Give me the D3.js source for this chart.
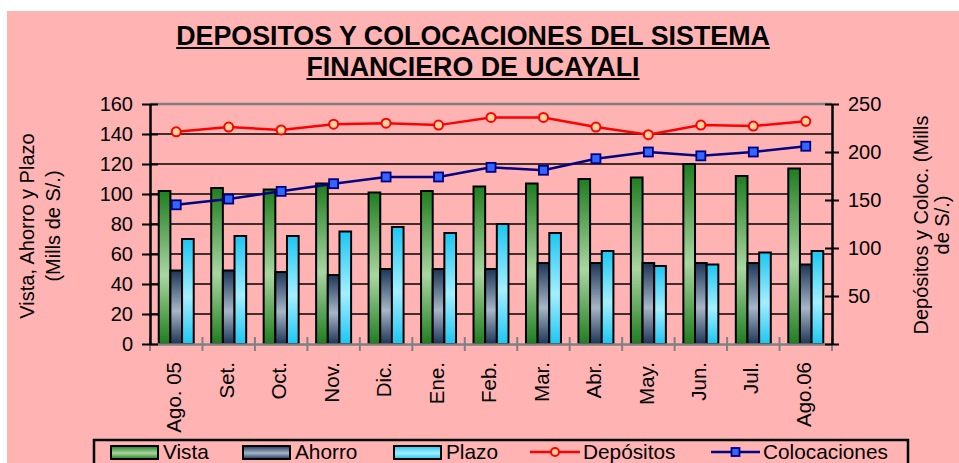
<!DOCTYPE html>
<html>
<head>
<meta charset="utf-8">
<script src="https://cdn.jsdelivr.net/npm/d3@7"></script>
<style>
  body { margin: 0; background: #fff; }
  svg text { font-family: "Liberation Sans", Arial, sans-serif; fill: #000; }
</style>
</head>
<body>
<div id="chart"></div>
<script>
const W = 959, H = 463;
const PLOT = { left: 150, right: 832, top: 104, bottom: 344 };

// data
const months = ["Ago. 05", "Set.", "Oct.", "Nov.", "Dic.", "Ene.", "Feb.", "Mar.", "Abr.", "May.", "Jun.", "Jul.", "Ago.06"];
const vista = [102, 104, 103, 107, 101, 102, 105, 107, 110, 111, 120, 112, 117];
const ahorro = [49, 49, 48, 46, 50, 50, 50, 54, 54, 54, 54, 54, 53];
const plazo = [70, 72, 72, 75, 78, 74, 80, 74, 62, 52, 53, 61, 62];
const depositos = [221, 226, 223, 229, 230, 228, 236, 236, 226, 218, 228, 227, 232];
const colocaciones = [145, 151, 159, 167, 174, 174, 184, 181, 193, 200, 196, 200, 206];
const leftTicks = [0, 20, 40, 60, 80, 100, 120, 140, 160];
const rightTicks = [50, 100, 150, 200, 250];
const barSeries = ["Vista", "Ahorro", "Plazo"];

const svg = d3.select("#chart").append("svg").attr("width", W).attr("height", H);

// gradients for the bars
const defs = svg.append("defs");
const grads = {
  Vista: ["#1f7d1f", "#a9d6a0"],
  Ahorro: ["#1d3557", "#a7b6c8"],
  Plazo: ["#1cc6f2", "#a3efff"]
};
Object.keys(grads).forEach(k => {
  const g = defs.append("linearGradient").attr("id", "g" + k)
    .attr("x1", 0).attr("y1", 0).attr("x2", 0).attr("y2", 1);
  g.append("stop").attr("offset", "0%").attr("stop-color", grads[k][0]);
  g.append("stop").attr("offset", "55%").attr("stop-color", grads[k][1]);
  g.append("stop").attr("offset", "100%").attr("stop-color", grads[k][0]);
});

svg.append("rect").attr("x", 7).attr("y", 11).attr("width", W - 7).attr("height", H - 11).attr("fill", "#ffb3b3");

// title
const titleLines = ["DEPOSITOS Y COLOCACIONES DEL SISTEMA", "FINANCIERO DE UCAYALI"];
titleLines.forEach((t, i) => {
  const tx = svg.append("text").attr("x", 473).attr("y", 45 + i * 31)
    .attr("text-anchor", "middle").style("font-size", "26.8px").style("font-weight", "bold").text(t);
  const w = tx.node().getComputedTextLength();
  svg.append("line").attr("x1", 473 - w / 2).attr("x2", 473 + w / 2)
    .attr("y1", 48 + i * 31).attr("y2", 48 + i * 31).attr("stroke", "#000").attr("stroke-width", 2);
});

const x = d3.scaleBand().domain(months).range([PLOT.left, PLOT.right]);
const step = x.step();
const xBar = d3.scaleBand().domain(barSeries).range([step / 6, step * 5 / 6]);
const yL = d3.scaleLinear().domain([0, 160]).range([PLOT.bottom, PLOT.top]);
const yR = d3.scaleLinear().domain([0, 250]).range([PLOT.bottom, PLOT.top]);

// gridlines
svg.append("g").selectAll("line").data(leftTicks.filter(d => d > 0)).join("line")
  .attr("x1", PLOT.left).attr("x2", PLOT.right)
  .attr("y1", d => yL(d)).attr("y2", d => yL(d))
  .attr("stroke", d => d === 160 ? "#808080" : "#000")
  .attr("stroke-width", d => d === 160 ? 2.5 : 1.5);

// bars
const barData = months.map((m, i) => ({ m, vals: [vista[i], ahorro[i], plazo[i]] }));
svg.append("g").selectAll("g").data(barData).join("g")
  .attr("transform", d => "translate(" + x(d.m) + ",0)")
  .selectAll("rect").data(d => d.vals.map((v, j) => ({ k: barSeries[j], v }))).join("rect")
  .attr("x", d => xBar(d.k)).attr("width", xBar.bandwidth())
  .attr("y", d => yL(d.v)).attr("height", d => yL(0) - yL(d.v))
  .attr("fill", d => "url(#g" + d.k + ")")
  .attr("stroke", "#000").attr("stroke-width", 2);

// x axis
const xAxis = svg.append("g").attr("transform", "translate(0," + PLOT.bottom + ")")
  .call(d3.axisBottom(x).tickSize(0).tickSizeOuter(0));
xAxis.select(".domain").attr("stroke", "#808080").attr("stroke-width", 2.5);
xAxis.selectAll(".tick text")
  .attr("transform", "rotate(-90)").attr("x", -18).attr("y", -2).attr("dy", "0.35em")
  .attr("text-anchor", "end").style("font-size", "20.5px").style("font-family", "Liberation Sans, Arial, sans-serif");
xAxis.selectAll("line.bound").data(d3.range(months.length + 1)).join("line").attr("class", "bound")
  .attr("x1", i => PLOT.left + i * step).attr("x2", i => PLOT.left + i * step)
  .attr("y1", -7).attr("y2", 7).attr("stroke", "#808080").attr("stroke-width", 2);

// left axis
const lAxis = svg.append("g").attr("transform", "translate(" + PLOT.left + ",0)")
  .call(d3.axisLeft(yL).tickValues(leftTicks).tickSize(8).tickPadding(9).tickSizeOuter(0));
lAxis.select(".domain").attr("stroke", "#000").attr("stroke-width", 2.5);
lAxis.selectAll(".tick line").attr("x2", -8).attr("x1", 8).attr("stroke", "#000").attr("stroke-width", 2);
lAxis.selectAll(".tick text").style("font-size", "20px").style("font-family", "Liberation Sans, Arial, sans-serif");

// right axis
const rAxis = svg.append("g").attr("transform", "translate(" + PLOT.right + ",0)")
  .call(d3.axisRight(yR).tickValues([0].concat(rightTicks)).tickSize(7).tickPadding(9).tickSizeOuter(0)
    .tickFormat(d => d === 0 ? "" : d));
rAxis.select(".domain").attr("stroke", "#000").attr("stroke-width", 2.5);
rAxis.selectAll(".tick line").attr("x1", -7).attr("x2", 7).attr("stroke", "#000").attr("stroke-width", 2);
rAxis.selectAll(".tick text").style("font-size", "20px").style("font-family", "Liberation Sans, Arial, sans-serif");

// lines
const cx = i => x(months[i]) + step / 2;
const lineDep = d3.line().x((d, i) => cx(i)).y(d => yR(d));
svg.append("path").datum(depositos).attr("d", lineDep)
  .attr("fill", "none").attr("stroke", "#ff0000").attr("stroke-width", 2.5);
svg.append("g").selectAll("circle").data(depositos).join("circle")
  .attr("cx", (d, i) => cx(i)).attr("cy", d => yR(d)).attr("r", 4.5)
  .attr("fill", "#ffd49c").attr("stroke", "#ff0000").attr("stroke-width", 2);

svg.append("path").datum(colocaciones).attr("d", lineDep)
  .attr("fill", "none").attr("stroke", "#000080").attr("stroke-width", 2.5);
svg.append("g").selectAll("rect").data(colocaciones).join("rect")
  .attr("x", (d, i) => cx(i) - 4.5).attr("y", d => yR(d) - 4.5).attr("width", 9).attr("height", 9)
  .attr("fill", "#3366ff").attr("stroke", "#000080").attr("stroke-width", 1.8);

// axis titles
const leftTitle = ["Vista, Ahorro y Plazo", "(Mills de S/.)"];
leftTitle.forEach((t, i) => {
  svg.append("text").attr("transform", "translate(" + (34 + i * 26) + ",226) rotate(-90)")
    .attr("text-anchor", "middle").style("font-size", "20px").text(t);
});
const rightTitle = ["Depósitos y Coloc. (Mills", "de S/.)"];
rightTitle.forEach((t, i) => {
  svg.append("text").attr("transform", "translate(" + (928 + i * 21) + ",225) rotate(-90)")
    .attr("text-anchor", "middle").style("font-size", "20px").text(t);
});

// legend
svg.append("rect").attr("x", 94).attr("y", 440).attr("width", 814).attr("height", 30)
  .attr("fill", "none").attr("stroke", "#000").attr("stroke-width", 2.5);
const legBars = [{ k: "Vista", x: 111 }, { k: "Ahorro", x: 243 }, { k: "Plazo", x: 394 }];
legBars.forEach(d => {
  svg.append("rect").attr("x", d.x).attr("y", 446).attr("width", 47).attr("height", 13)
    .attr("fill", "url(#g" + d.k + ")").attr("stroke", "#000").attr("stroke-width", 2);
  svg.append("text").attr("x", d.x + 52).attr("y", 458.5).style("font-size", "20.8px").text(d.k);
});
svg.append("line").attr("x1", 530).attr("x2", 580).attr("y1", 452).attr("y2", 452)
  .attr("stroke", "#ff0000").attr("stroke-width", 2.5);
svg.append("circle").attr("cx", 555).attr("cy", 452).attr("r", 4)
  .attr("fill", "#ffd49c").attr("stroke", "#ff0000").attr("stroke-width", 2);
svg.append("text").attr("x", 583).attr("y", 458.5).style("font-size", "20.8px").text("Depósitos");
svg.append("line").attr("x1", 711).attr("x2", 760).attr("y1", 452).attr("y2", 452)
  .attr("stroke", "#000080").attr("stroke-width", 2.5);
svg.append("rect").attr("x", 731.5).attr("y", 448).attr("width", 8).attr("height", 8)
  .attr("fill", "#3366ff").attr("stroke", "#000080").attr("stroke-width", 1.8);
svg.append("text").attr("x", 763).attr("y", 458.5).style("font-size", "20.8px").text("Colocaciones");
</script>
</body>
</html>
